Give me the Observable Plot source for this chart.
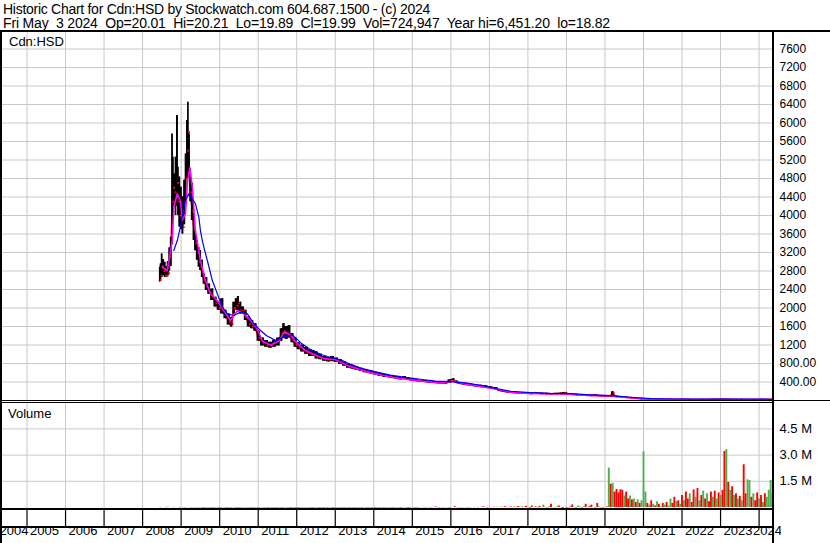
<!DOCTYPE html>
<html><head><meta charset="utf-8">
<script src="https://cdn.jsdelivr.net/npm/d3@7"></script>
<script src="https://cdn.jsdelivr.net/npm/@observablehq/plot@0.6"></script>
<style>
body{margin:0;background:#fff;}
#chart{position:relative;width:830px;height:543px;overflow:hidden;font-family:Arial,"Liberation Sans",sans-serif;color:#000;background:#fff;}
.hdr{position:absolute;left:3px;font-size:14px;line-height:14px;white-space:pre;}
.lbl{position:absolute;font-size:13px;line-height:13px;white-space:pre;}
.blk{position:absolute;background:#000;}
.pane{position:absolute;left:0;}
.pane svg{max-width:none !important;}
</style></head><body><div id="chart"></div>
<script>
// ---------- text ----------
const titleLine1 = "Historic Chart for Cdn:HSD by Stockwatch.com 604.687.1500 - (c) 2024";
const titleLine2 = "Fri May  3 2024  Op=20.01  Hi=20.21  Lo=19.89  Cl=19.99  Vol=724,947  Year hi=6,451.20  lo=18.82";
const priceLabel = "Cdn:HSD";
const volumeLabel = "Volume";

// ---------- axis ticks ----------
const years = [2004,2005,2006,2007,2008,2009,2010,2011,2012,2013,2014,2015,2016,2017,2018,2019,2020,2021,2022,2023,2024];
const priceTicks = [400,800,1200,1600,2000,2400,2800,3200,3600,4000,4400,4800,5200,5600,6000,6400,6800,7200,7600];
const volTicks = [1.5,3.0,4.5]; // millions

// ---------- price (decimal year, high, low, close) ----------
const priceYear = [2008.44,2008.47,2008.50,2008.54,2008.58,2008.62,2008.66,2008.70,2008.74,2008.77,2008.79,2008.83,2008.86,2008.90,2008.92,2008.96,2009.00,2009.04,2009.09,2009.12,2009.16,2009.18,2009.21,2009.24,2009.29,2009.33,2009.37,2009.42,2009.46,2009.50,2009.55,2009.59,2009.66,2009.72,2009.81,2009.89,2009.98,2010.07,2010.15,2010.24,2010.31,2010.37,2010.44,2010.48,2010.54,2010.61,2010.67,2010.76,2010.84,2010.93,
2011.01,2011.11,2011.22,2011.32,2011.42,2011.53,2011.61,2011.66,2011.74,2011.81,2011.89,2011.97,2012.05,2012.15,2012.25,2012.36,2012.44,2012.51,2012.62,2012.72,2012.83,2012.93,2013.03,2013.14,2013.24,2013.34,2013.45,2013.55,2013.66,2013.79,2013.92,2014.05,2014.17,2014.30,2014.43,2014.56,2014.69,2014.80,2014.90,2015.01,2015.11,2015.21,2015.34,2015.47,2015.60,2015.73,2015.86,2015.99,2016.07,2016.15,2016.25,2016.38,2016.51,2016.64,2016.77,2016.90,2017.03,2017.16,2017.29,
2017.42,2017.55,2017.68,2017.81,2017.94,2018.07,2018.15,2018.33,2018.46,2018.59,2018.72,2018.85,2018.95,2019.11,2019.24,2019.37,2019.50,2019.62,2019.76,2019.88,2020.01,2020.14,2020.20,2020.27,2020.40,2020.53,2020.66,2020.79,2020.92,2021.05,2021.18,2021.44,2021.96,2022.48,2023.00,2023.52,2024.04,2024.30,2024.336];
const priceHigh = [2880,2950,3170,3050,2990,2900,3000,3300,3530,5765,5260,4900,5260,6160,5045,4830,4610,4400,4760,5330,6054,6451,5760,4900,4690,4040,3670,3460,3310,3240,3030,2740,2660,2520,2410,2230,2125,2200,1950,1870,1800,2125,2200,2250,2125,2020,1950,1800,1730,1660,
1500,1350,1300,1260,1300,1350,1550,1660,1600,1620,1450,1350,1250,1200,1150,1100,1080,1050,1000,950,930,950,920,880,840,790,760,730,700,670,640,610,580,560,540,520,500,520,490,470,450,440,430,420,410,400,400,450,470,420,390,370,355,340,330,320,300,280,240,
210,195,185,175,170,160,175,160,155,150,155,160,175,145,135,130,125,120,125,110,105,110,190,100,88,78,66,55,45,36,33,28,26,24,26,24,23,21,20.21];
const priceLow = [2560,2600,2660,2700,2660,2660,2700,2800,2900,3600,3890,4180,4000,4200,4000,3750,3700,3600,3800,4300,4800,5100,4800,4300,3890,3460,3240,3030,2880,2810,2660,2520,2380,2300,2160,2020,1950,1870,1770,1630,1590,1870,1950,1950,1870,1870,1730,1590,1550,1500,
1280,1180,1150,1130,1150,1180,1280,1350,1320,1350,1250,1150,1100,1050,1000,950,950,900,880,850,830,840,820,780,740,700,680,660,630,600,580,550,520,500,490,470,450,460,440,420,410,400,390,380,370,360,360,380,390,370,350,330,320,300,290,280,260,240,200,
180,170,160,155,150,140,150,140,135,130,135,140,150,125,115,110,105,100,105,92,88,90,110,82,72,62,54,45,36,30,27,23,21,20,22,20,19,19,19.89];
const priceClose = [2600,2700,2900,2800,2700,2700,2750,3100,3400,4300,4600,4500,4400,4700,4300,4000,3900,3750,4300,4800,5400,5800,5000,4500,4100,3700,3400,3200,3000,2900,2750,2600,2450,2350,2250,2100,2000,1950,1850,1700,1650,2000,2050,2100,1950,1950,1800,1650,1600,1550,
1350,1250,1200,1180,1250,1300,1450,1500,1450,1400,1300,1200,1150,1100,1050,1000,1000,950,920,900,880,900,860,820,780,740,700,690,660,630,600,580,550,530,510,490,470,490,460,440,430,420,410,400,390,380,380,420,430,390,370,350,335,320,305,295,275,255,210,
190,180,170,165,160,150,165,150,145,140,145,150,165,135,125,120,115,110,115,100,95,100,170,90,80,70,60,50,40,33,30,25,23,22,24,22,21,20,19.99];

// ---------- moving averages (decimal year, value) ----------
const maLongYear = [2008.81,2008.90,2008.98,2009.11,2009.20,2009.37,2009.46,2009.50,2009.55,2009.59,2009.68,2009.81,2009.94,2010.07,2010.20,2010.37,2010.54,2010.72,2010.89,2011.06,2011.22,2011.45,2011.71,2011.89,2012.10,2012.36,2012.62,2012.88,2013.14,2013.40,2013.66,2014.05,2014.43,2014.82,2015.21,2015.60,2015.99,2016.38,2016.77,2017.16,2017.55,2018.07,2018.59,2019.11,2019.62,2020.14,2020.66,2021.18,2021.70,2022.48,2023.52,2024.17,2024.34];
const maLong = [3243,3459,3747,4324,4469,4259,3964,3675,3459,3315,3027,2594,2306,2018,1874,1838,1909,1874,1658,1513,1400,1300,1380,1420,1250,1100,1000,930,880,780,700,620,550,500,460,420,410,380,330,260,200,170,155,150,120,105,70,40,32,30,30,30,24];
const maShortYear = [2008.51,2008.64,2008.77,2008.81,2008.90,2008.98,2009.03,2009.11,2009.17,2009.23,2009.29,2009.37,2009.50,2009.63,2009.76,2009.94,2010.11,2010.28,2010.46,2010.63,2010.80,2010.97,2011.11,2011.32,2011.53,2011.68,2011.84,2011.99,2012.23,2012.49,2012.75,2013.01,2013.27,2013.53,2013.79,2014.17,2014.56,2014.95,2015.34,2015.73,2016.04,2016.38,2016.77,2017.16,2017.55,2018.07,2018.59,2019.11,2019.62,2020.14,2020.66,2021.18,2022.48,2024.35];
const maShort = [2882,2810,3459,4180,4469,4324,3892,4036,4756,5031,4612,3675,3027,2594,2306,2162,1946,1730,1946,1874,1730,1557,1280,1200,1280,1480,1420,1250,1080,980,900,880,770,700,630,550,490,450,410,380,420,350,305,250,180,155,145,135,110,100,60,30,23,20];

// ---------- volume (regular bars from 2008.45, step 0.05 yr), thousands of shares ----------
const volStart = 2008.45, volStep = 0.05;
const volumeK = [100,110,120,100,130,120,110,100,120,110,
100,110,100,90,100,110,90,100,90,100,
90,100,90,80,100,90,90,80,90,100,
90,80,90,100,90,80,90,90,100,90,
80,90,90,80,100,90,80,90,80,90,
90,80,90,100,80,90,80,90,90,80,
90,80,90,80,90,100,80,90,80,90,
80,90,80,90,80,90,100,80,90,80,
90,80,90,80,90,80,90,80,100,90,
80,90,80,90,80,90,80,90,80,90,
90,80,90,80,90,80,100,90,80,90,
80,90,80,90,80,90,80,90,100,80,
90,80,90,100,90,80,90,100,90,80,
90,100,90,80,90,100,110,90,100,130,
100,90,110,150,100,90,100,90,110,100,
90,100,120,160,110,100,90,100,110,100,
90,100,110,100,120,100,110,130,150,110,
100,120,110,130,120,140,110,130,120,160,
130,120,150,110,140,130,170,120,150,130,
180,
120,80,200,100,150,90,180,110,250,130,90,160,300,120,100,140,200,
100,60,120,80,90,150,260,120,80,200,140,90,160,300,110,180,250,120,90,350,150,100,80,
120,150,2370,1450,1500,1000,1150,950,1130,1100,780,1000,600,780,550,600,400,550,350,500,3300,1000,350,250,500,300,200,450,300,150,350,250,400,200,600,350,700,450,500,300,800,500,1000,600,900,400,1120,700,1200,500,800,1050,600,900,450,1000,700,1050,600,950,800,1100,3320,3430,1550,1100,1300,800,900,600,750,500,2560,900,1700,1660,700,900,500,950,600,800,400,900,700,1100,1660,900];
const volumeDir = // G = up day (green), R = down day (red)
"RRGRRRGRRR"+"RRRGRRRRGR"+"RGRRRRGRRR"+"RRGRRRRRGR"+"RRRGRRGRRR"+"GRRRRGRRRR"+"RRGRRRGRRR"+"RRRRGRRGRR"+"RGRRRRGRRR"+"RRGRRRRGRR"+
"RRRGRRGRRR"+"GRRRRGRRRG"+"RRGRRRGRRR"+"RRRGRGRRRG"+"RGRRRRGRRG"+"RRGRRRGRRR"+"GRRGRRGRRR"+"RRGRRGRRGR"+"RGRRRGRRGR"+"R"+
"GRRGRGRRGRRGRRRGRGRR"+"RGRRGRGRRGRGRRGRRGRR"+
"RRGRGRRRRR"+"GRRGRGRGRG"+"GGRGRGRGRG"+"RGRGGRRGRG"+"RGRRGRRGRG"+"RGRGRRGRGR"+"GRRGRGRGRG"+"RGRRGGRGRR"+"GRGRGGGR";

// ---------- build tables ----------
const priceRows = priceYear.map((y, i) => ({year: y, high: priceHigh[i], low: priceLow[i], close: priceClose[i]}));
const longRows = maLongYear.map((y, i) => ({year: y, v: maLong[i]}));
const shortRows = maShortYear.map((y, i) => ({year: y, v: maShort[i]}));
const volRows = volumeK.map((v, i) => ({year: volStart + i * volStep, vol: v / 1000, up: volumeDir[i] === "G"}));

const xDomain = [2004.312, 2024.374];
const panelRight = 773, fullW = 830;
const grid = "#c8c8c8";
const font = "Arial, 'Liberation Sans', sans-serif";
const baseStyle = {background: "transparent", overflow: "visible", fontFamily: font, color: "#000", maxWidth: "none"};

const chart = document.getElementById("chart");
function place(el, top, left, w, h) {
  const d = document.createElement("div");
  d.className = "pane";
  d.style.top = top + "px";
  if (left != null) d.style.left = left + "px";
  if (w != null) { d.style.width = w + "px"; d.style.overflow = "hidden"; }
  if (h != null) d.style.height = h + "px";
  d.appendChild(el);
  chart.appendChild(d);
  return d;
}

// ---------- price panel ----------
const pricePlot = Plot.plot({
  width: fullW, height: 368,
  marginLeft: 0, marginRight: fullW - panelRight, marginTop: 0, marginBottom: 0,
  style: baseStyle,
  x: {domain: xDomain, range: [0, panelRight], axis: null},
  y: {domain: [0, 7957], range: [368, 0]},
  marks: [
    Plot.ruleY(priceTicks, {stroke: grid, strokeWidth: 1}),
    Plot.ruleX(years.slice(1), {stroke: grid, strokeWidth: 1}),
    Plot.line(priceRows, {x: "year", y: "close", stroke: "#ff0000", strokeWidth: 1.6}),
    Plot.areaY(priceRows, {x: "year", y1: "low", y2: "high", fill: "#000", curve: "step"}),
    Plot.ruleX(priceRows, {x: "year", y1: "low", y2: "high", stroke: "#000", strokeWidth: 1.3}),
    Plot.dot(priceRows, {x: "year", y: "close", symbol: "square", r: 1.1, fill: "#ff0000", dx: 1}),
    Plot.line(shortRows, {x: "year", y: "v", stroke: "#ff00ff", strokeWidth: 1.6}),
    Plot.line(longRows, {x: "year", y: "v", stroke: "#0000ff", strokeWidth: 1.2}),
    Plot.axisY(priceTicks, {anchor: "right", tickSize: 0, tickPadding: 6, fontSize: 12, fill: "#000", label: null,
      tickFormat: d => d >= 1000 ? String(d) : d.toFixed(2)})
  ]
});
place(pricePlot, 32);

// ---------- volume panel ----------
const volPlot = Plot.plot({
  width: fullW, height: 105,
  marginLeft: 0, marginRight: fullW - panelRight, marginTop: 0, marginBottom: 0,
  style: baseStyle,
  x: {domain: xDomain, range: [0, panelRight], axis: null},
  y: {domain: [0, 5.954], range: [104, 0]},
  marks: [
    Plot.ruleY(volTicks, {stroke: grid, strokeWidth: 1}),
    Plot.ruleX(years.slice(1), {stroke: grid, strokeWidth: 1}),
    Plot.ruleX(volRows, {x: "year", y1: 0, y2: "vol", insetBottom: -2,
      stroke: d => d.up ? "#4caf50" : "#ff0000", strokeWidth: 1.9}),
    Plot.axisY(volTicks, {anchor: "right", tickSize: 0, tickPadding: 6, fontSize: 13, fill: "#000", label: null,
      tickFormat: d => d.toFixed(1) + " M"})
  ]
});
place(volPlot, 403);

// ---------- date strip ----------
const datePlot = Plot.plot({
  width: fullW, height: 35,
  marginLeft: 0, marginRight: fullW - panelRight, marginTop: 2, marginBottom: 17,
  style: baseStyle,
  x: {domain: xDomain, range: [0, panelRight], axis: null},
  marks: [
    Plot.ruleX(years.slice(1), {stroke: "#000", strokeWidth: 1.2}),
    Plot.text(years, {x: d => d, text: d => String(d), frameAnchor: "bottom", textAnchor: "start",
      dx: 3, dy: 8, fontSize: 13, fill: "#000"})
  ]
});
place(datePlot, 508, 0, 781);
// first partial-year label is pushed in from the clipped left edge, last one pulled back inside
const lbls = datePlot.querySelectorAll("g[aria-label=text] text");
if (lbls.length) {
  lbls[0].setAttribute("dx", "8");
  lbls[lbls.length - 1].setAttribute("dx", "-9");
}

// ---------- texts ----------
function txt(cls, s, top, left, targetW) {
  const d = document.createElement("div");
  d.className = cls; d.textContent = s;
  d.style.top = top + "px";
  if (left != null) d.style.left = left + "px";
  chart.appendChild(d);
  if (targetW) {
    const w = d.getBoundingClientRect().width;
    d.style.letterSpacing = ((targetW - w) / s.length).toFixed(3) + "px";
  }
}
txt("hdr", titleLine1, 2, null, 427);
txt("hdr", titleLine2, 16, null, 607);
txt("lbl", priceLabel, 35, 9);
txt("lbl", volumeLabel, 406.5, 8);

// ---------- frame lines ----------
function blk(l, t, w, h) {
  const d = document.createElement("div");
  d.className = "blk";
  Object.assign(d.style, {left: l + "px", top: t + "px", width: w + "px", height: h + "px"});
  chart.appendChild(d);
}
blk(0, 30, fullW, 2);
blk(0, 30, 2, 513);
blk(panelRight - 1, 30, 2, 513);
blk(0, 400, fullW, 1);
blk(0, 402, panelRight, 1);
blk(0, 508, panelRight, 2);
blk(0, 526, panelRight, 2);
</script></body></html>
